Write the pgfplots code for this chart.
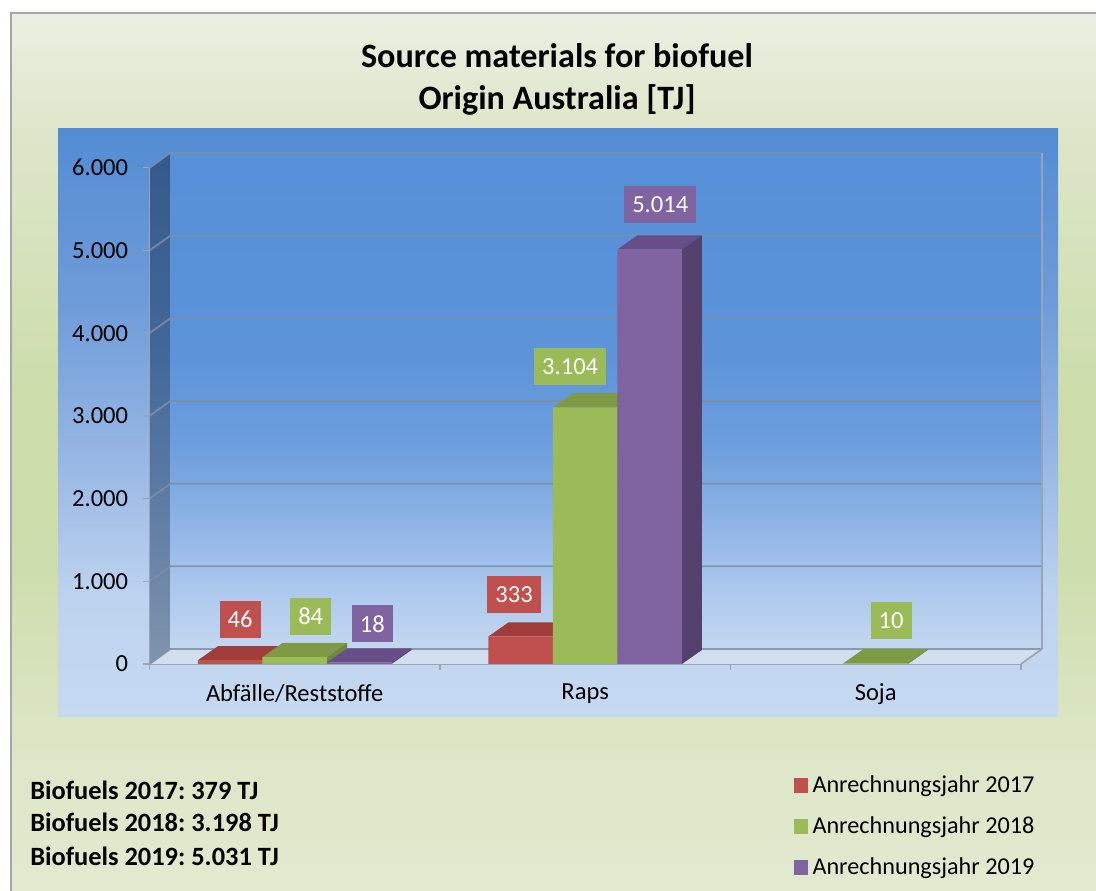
\documentclass[border=0pt]{standalone}
\usepackage{pgfplots}
\pgfplotsset{compat=1.18}
\usepackage{fontspec}
\setmainfont{Carlito}
\frenchspacing
\definecolor{cRed}{HTML}{C0504D}
\definecolor{cRedTop}{HTML}{A03C39}
\definecolor{cRedSide}{HTML}{85322F}
\definecolor{cGreen}{HTML}{9BBB59}
\definecolor{cGreenTop}{HTML}{7E9A45}
\definecolor{cGreenSide}{HTML}{6F883C}
\definecolor{cPurple}{HTML}{8064A2}
\definecolor{cPurpleTop}{HTML}{684E88}
\definecolor{cPurpleSide}{HTML}{54406D}
\definecolor{gridc}{HTML}{7E8EA6}
\definecolor{edgec}{HTML}{9AA4B2}
\definecolor{floorc}{HTML}{D3DFEE}
\definecolor{framec}{HTML}{A6A6A6}
\definecolor{bgA}{HTML}{E2E9D0}
\definecolor{bgB}{HTML}{DEE7C8}
\definecolor{bgC}{HTML}{CEDDAD}
\definecolor{bgD}{HTML}{CCDCAA}
\definecolor{bgE}{HTML}{DDE6CA}
\definecolor{bgF}{HTML}{ECEFE2}
\definecolor{plA}{HTML}{C6D9F1}
\definecolor{plB}{HTML}{BED3EF}
\definecolor{plC}{HTML}{97B7E4}
\definecolor{plD}{HTML}{6F9CD9}
\definecolor{plE}{HTML}{538CD3}
\definecolor{wlA}{HTML}{C4D7F0}
\definecolor{wlB}{HTML}{B0CBEE}
\definecolor{wlC}{HTML}{8DB3E5}
\definecolor{wlD}{HTML}{6E9FDE}
\definecolor{wlE}{HTML}{5C93D9}
\definecolor{wlF}{HTML}{5590D8}
\definecolor{lwA}{HTML}{8094AD}
\definecolor{lwB}{HTML}{5F7DA5}
\definecolor{lwC}{HTML}{42689A}
\definecolor{lwD}{HTML}{35598A}
\pgfdeclareverticalshading{bgshade}{100bp}{color(0bp)=(bgA); color(25bp)=(bgA); color(32.5bp)=(bgB); color(43.8bp)=(bgC); color(53bp)=(bgD); color(68.3bp)=(bgE); color(75bp)=(bgF); color(100bp)=(bgF)}
\pgfdeclareverticalshading{plotshade}{100bp}{color(0bp)=(plA); color(25bp)=(plA); color(35bp)=(plB); color(47bp)=(plC); color(60bp)=(plD); color(75bp)=(plE); color(100bp)=(plE)}
\pgfdeclareverticalshading{wallshade}{100bp}{color(0bp)=(wlA); color(25bp)=(wlA); color(30bp)=(wlB); color(38bp)=(wlC); color(45bp)=(wlD); color(55bp)=(wlE); color(75bp)=(wlF); color(100bp)=(wlF)}
\pgfdeclareverticalshading{leftwall}{100bp}{color(0bp)=(lwA); color(25bp)=(lwA); color(40bp)=(lwB); color(55bp)=(lwC); color(75bp)=(lwD); color(100bp)=(lwD)}
\newcommand{\txt}{\fontsize{18.4}{22}\selectfont}
\newcommand{\legtxt}{\fontsize{18.15}{22}\selectfont}
\pgfplotsset{
  barlabel/.style={nodes near coords,
    visualization depends on={\thisrow{dx} \as \labeldx},
    visualization depends on={\thisrow{dy} \as \labeldy},
    every node near coord/.append style={fill=#1, text=white, inner xsep=6pt, inner ysep=0pt, minimum height=27.75pt, font=\txt, anchor=south, xshift=\labeldx pt, yshift=\labeldy pt}},
}
\begin{document}
\begin{tikzpicture}[x=1pt,y=1pt]
\path[use as bounding box] (0,0) rectangle (822,668.25);
\clip (0,0) rectangle (822,668.25);
\fill[white] (0,0) rectangle (822,668.25);
\shadedraw[shading=bgshade, draw=framec, line width=1.1pt] (8.25,-5) rectangle (830,658.5);
\shade[shading=plotshade] (43.5,130.5) rectangle (793.5,571.5);
\node[font=\fontsize{25.6}{30}\bfseries\selectfont] at (417.75,626.25) {Source materials for biofuel};
\node[font=\fontsize{25.6}{30}\bfseries\selectfont] at (417.75,593.25) {Origin Australia [TJ]};
\node[font=\fontsize{19.8}{22}\bfseries\selectfont, anchor=west, inner sep=0pt] at (22.5,75.75) {Biofuels 2017: 379 TJ};
\node[font=\fontsize{19.8}{22}\bfseries\selectfont, anchor=west, inner sep=0pt] at (22.5,51.75) {Biofuels 2018: 3.198 TJ};
\node[font=\fontsize{19.8}{22}\bfseries\selectfont, anchor=west, inner sep=0pt] at (22.5,26.25) {Biofuels 2019: 5.031 TJ};
\begin{axis}[
  at={(112.1pt,170.25pt)}, anchor=south west,
  width=653.6pt, height=372.15pt, scale only axis,
  xmin=-0.5, xmax=2.5, ymin=0, ymax=6000,
  clip=false,
  axis x line*=bottom, axis y line*=left,
  axis line style={draw=edgec, line width=1.2pt},
  xtick={0,1,2}, xticklabels={Abfälle/Reststoffe,Raps,Soja},
  minor xtick={-0.5,0.5,1.5,2.5},
  major x tick style={draw=none},
  ytick={0,1000,2000,3000,4000,5000,6000},
  tick align=outside, major tick length=4.5pt, minor tick length=4.5pt,
  tick style={draw=edgec, line width=1pt},
  ticklabel style={font=\txt},
  xticklabel style={yshift=-7pt},
  yticklabel style={xshift=-8pt},
  scaled y ticks=false,
  /pgf/number format/.cd, fixed, precision=0, 1000 sep={.}, assume math mode=true,
  /pgfplots/.cd,
  legend style={at={(axis description cs:0.7395,-0.223)}, anchor=north west, draw=none, fill=none, inner sep=0pt, row sep=13.75pt, font=\legtxt, cells={anchor=west}, nodes={inner sep=0pt, text height=13pt, text depth=4pt},
    /tikz/every odd column/.append style={column sep=3.6pt}},
  legend cell align=left,
]
% walls
\shade[shading=leftwall] (axis cs:-0.5,0) -- (axis cs:-0.5,6000) -- ([shift={(15.75pt,11.25pt)}]axis cs:-0.5,6000) -- ([shift={(15.75pt,11.25pt)}]axis cs:-0.5,0) -- cycle;
\shade[shading=wallshade] ([shift={(15.75pt,11.25pt)}]axis cs:-0.5,0) rectangle ([shift={(15.75pt,11.25pt)}]axis cs:2.5,6000);
\fill[floorc] (axis cs:-0.5,0) -- (axis cs:2.5,0) -- ([shift={(15.75pt,11.25pt)}]axis cs:2.5,0) -- ([shift={(15.75pt,11.25pt)}]axis cs:-0.5,0) -- cycle;
\pgfplotsinvokeforeach{0,1000,2000,3000,4000,5000,6000}{
  \draw[gridc, line width=1.4pt, opacity=0.85] (axis cs:-0.5,#1) -- ([shift={(15.75pt,11.25pt)}]axis cs:-0.5,#1) -- ([shift={(15.75pt,11.25pt)}]axis cs:2.5,#1);
}
\draw[edgec, line width=1pt] ([shift={(15.75pt,11.25pt)}]axis cs:2.5,0) -- ([shift={(15.75pt,11.25pt)}]axis cs:2.5,6000);
\draw[edgec, line width=1.2pt] (axis cs:2.5,0) -- ([shift={(15.75pt,11.25pt)}]axis cs:2.5,0);
\draw[edgec, line width=1.2pt] (axis cs:-0.5,0) -- (axis cs:-0.5,6000);

% ---- 2017 (red)
\addplot[fill=cRedTop, draw=none, forget plot] coordinates {(-0.333,46) (-0.111,46) (-0.042,216) (-0.264,216)};
\addplot[fill=cRedSide, draw=none, forget plot] coordinates {(-0.111,0) (-0.111,46) (-0.042,216) (-0.042,170)};
\addplot[fill=cRedTop, draw=none, forget plot] coordinates {(0.667,333) (0.889,333) (0.958,503) (0.736,503)};
\addplot[fill=cRedSide, draw=none, forget plot] coordinates {(0.889,0) (0.889,333) (0.958,503) (0.958,170)};
\addplot[ybar, bar width=0.222, bar shift=-0.222, fill=cRed, draw=none, forget plot, barlabel=cRed]
  table[row sep=\\] {x y dx dy\\ 0 46 -40.9 16.5\\ 1 333 -53.3 17.6\\};

% ---- 2018 (green)
\addplot[fill=cGreenTop, draw=none, forget plot] coordinates {(-0.111,84) (0.111,84) (0.180,254) (-0.042,254)};
\addplot[fill=cGreenSide, draw=none, forget plot] coordinates {(0.111,0) (0.111,84) (0.180,254) (0.180,170)};
\addplot[fill=cGreenTop, draw=none, forget plot] coordinates {(0.889,3104) (1.111,3104) (1.180,3274) (0.958,3274)};
\addplot[fill=cGreenSide, draw=none, forget plot] coordinates {(1.111,0) (1.111,3104) (1.180,3274) (1.180,170)};
\addplot[fill=cGreenTop, draw=none, forget plot] coordinates {(1.889,10) (2.111,10) (2.180,180) (1.958,180)};
\addplot[fill=cGreenSide, draw=none, forget plot] coordinates {(2.111,0) (2.111,10) (2.180,180) (2.180,170)};
\addplot[ybar, bar width=0.222, bar shift=0, fill=cGreen, draw=none, forget plot, barlabel=cGreen]
  table[row sep=\\] {x y dx dy\\ 0 84 12 16.5\\ 1 3104 -11.25 16.5\\ 2 10 11.6 18\\};

% ---- 2019 (purple)
\addplot[fill=cPurpleTop, draw=none, forget plot] coordinates {(0.111,18) (0.333,18) (0.402,188) (0.180,188)};
\addplot[fill=cPurpleSide, draw=none, forget plot] coordinates {(0.333,0) (0.333,18) (0.402,188) (0.402,170)};
\addplot[fill=cPurpleTop, draw=none, forget plot] coordinates {(1.111,5014) (1.333,5014) (1.402,5184) (1.180,5184)};
\addplot[fill=cPurpleSide, draw=none, forget plot] coordinates {(1.333,0) (1.333,5014) (1.402,5184) (1.402,170)};
\addplot[ybar, bar width=0.222, bar shift=0.222, fill=cPurple, draw=none, forget plot, barlabel=cPurple]
  table[row sep=\\] {x y dx dy\\ 0 18 58.15 15\\ 1 5014 56.3 19.5\\};

\addlegendimage{legend image code/.code={\fill[cRed] (0pt,-4.5pt) rectangle (9.75pt,5.7pt);}}
\addlegendentry{Anrechnungsjahr 2017}
\addlegendimage{legend image code/.code={\fill[cGreen] (0pt,-4.5pt) rectangle (9.75pt,5.7pt);}}
\addlegendentry{Anrechnungsjahr 2018}
\addlegendimage{legend image code/.code={\fill[cPurple] (0pt,-4.5pt) rectangle (9.75pt,5.7pt);}}
\addlegendentry{Anrechnungsjahr 2019}
\end{axis}
\end{tikzpicture}
\end{document}
